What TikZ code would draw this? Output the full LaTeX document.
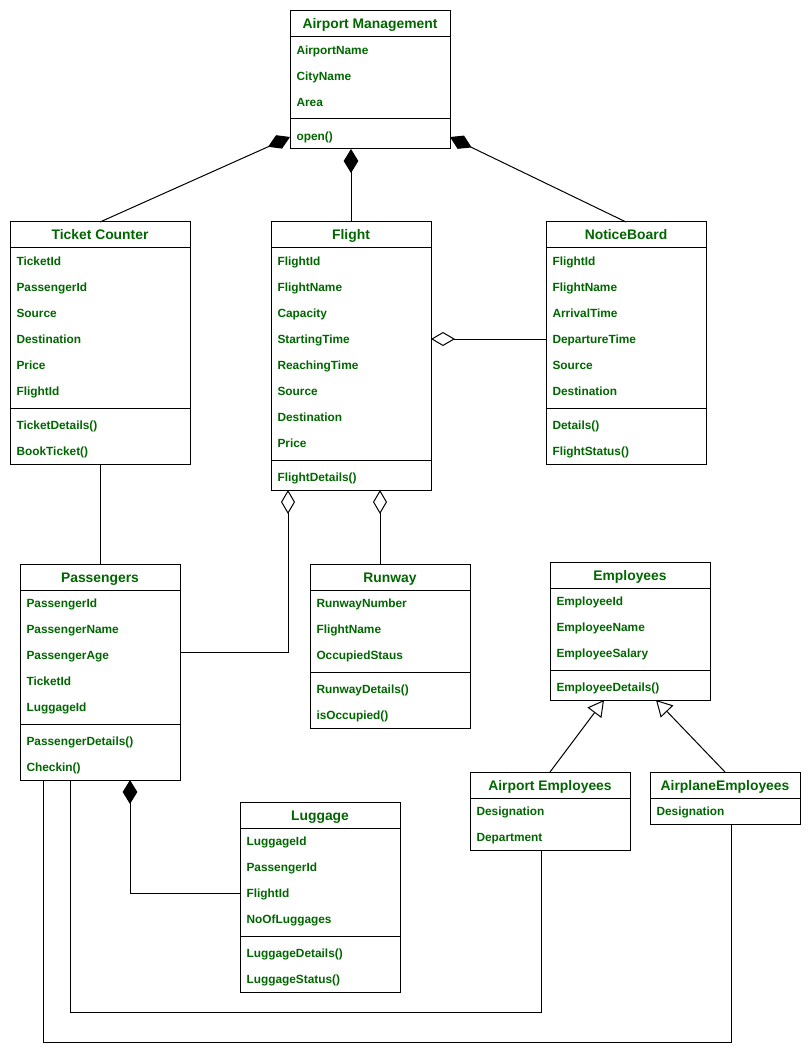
\documentclass[tikz,border=0pt]{standalone}
\usepackage{fontspec}
\setmainfont{Liberation Sans}
\usetikzlibrary{arrows.meta,fit,calc}

\definecolor{umlgreen}{RGB}{0,102,0}
\def\px{0.75pt}

\tikzset{
	classtitle/.style={draw, minimum height=26*\px, inner sep=0, outer sep=0,
		text height=7.5pt, text depth=0pt,
		font=\fontsize{10.4}{12}\selectfont\bfseries, text=umlgreen},
	member/.style={anchor=west, inner sep=0, text height=6.4pt, text depth=0pt,
		font=\fontsize{8.9}{10}\selectfont\bfseries, text=umlgreen},
	classbox/.style={draw, inner sep=0, outer sep=0},
	compose/.style={{Diamond[length=18pt, width=11pt]}-},
	aggr/.style={{Diamond[open, length=18pt, width=10.5pt]}-},
	general/.style={{Triangle[open, length=12pt, width=13pt]}-}
}

% name, top left, width, title, attributes, methods
\newcommand{\umlclass}[6]{%
	\node[classtitle, minimum width=#3*\px, anchor=north west] (#1-t) at (#2) {#4};
	\foreach \a [count=\i] in {#5} {
		\node[member] (#1-a\i) at ([xshift=6*\px, yshift=-(\i*26-13)*\px]#1-t.south west) {\a};
		\xdef\nrows{\i}
	}
	\if\relax\detokenize{#6}\relax
		\coordinate (#1-b) at ([yshift=-\nrows*26*\px]#1-t.south east);
	\else
		\draw ([yshift=-(\nrows*26+4)*\px]#1-t.south west) -- ([yshift=-(\nrows*26+4)*\px]#1-t.south east);
		\foreach \m [count=\j] in {#6} {
			\node[member] (#1-m\j) at ([xshift=6*\px, yshift=-(\nrows*26+8+\j*26-13)*\px]#1-t.south west) {\m};
			\xdef\nmeth{\j}
		}
		\coordinate (#1-b) at ([yshift=-(\nrows*26+8+\nmeth*26)*\px]#1-t.south east);
	\fi
	\node[classbox, fit=(#1-t)(#1-b)] (#1) {};
}

\begin{document}
\begin{tikzpicture}[x=0.75pt, y=-0.75pt, line width=0.75pt]

	\useasboundingbox (0,0) rectangle (811,1055);

	% ---- classes

	\umlclass{am}{290,11}{160}{Airport Management}{AirportName,CityName,Area}{open()}
	\umlclass{tc}{10,222}{180}{Ticket Counter}{TicketId,PassengerId,Source,Destination,Price,FlightId}{TicketDetails(),BookTicket()}
	\umlclass{fl}{271,222}{160}{Flight}{FlightId,FlightName,Capacity,StartingTime,ReachingTime,Source,Destination,Price}{FlightDetails()}
	\umlclass{nb}{546,222}{160}{NoticeBoard}{FlightId,FlightName,ArrivalTime,DepartureTime,Source,Destination}{Details(),FlightStatus()}
	\umlclass{pa}{20,564}{160}{Passengers}{PassengerId,PassengerName,PassengerAge,TicketId,LuggageId}{PassengerDetails(),Checkin()}
	\umlclass{rw}{310,564}{160}{Runway}{RunwayNumber,FlightName,OccupiedStaus}{RunwayDetails(),isOccupied()}
	\umlclass{emp}{550,562}{160}{Employees}{EmployeeId,EmployeeName,EmployeeSalary}{EmployeeDetails()}
	\umlclass{ae}{470,772}{160}{Airport Employees}{Designation,Department}{}
	\umlclass{ape}{650,772}{150}{AirplaneEmployees}{Designation}{}
	\umlclass{lug}{240,802}{160}{Luggage}{LuggageId,PassengerId,FlightId,NoOfLuggages}{LuggageDetails(),LuggageStatus()}

	% ---- composition

	\draw[compose] ([yshift=12*\px]am.south west) -- (tc.north);
	\draw[compose] (fl.north |- am.south) -- (fl.north);
	\draw[compose] ([yshift=12*\px]am.south east) -- (nb.north);
	\draw[compose] ([xshift=30*\px]pa.south) |- (lug.west |- lug-a3);

	% ---- aggregation

	\draw[aggr] (fl.east |- nb-a4) -- (nb.west |- nb-a4);
	\draw[aggr] ([xshift=-10*\px]rw.north |- fl.south) -- ([xshift=-10*\px]rw.north);
	\draw[aggr] ([xshift=-63*\px]fl.south) |- ([yshift=20*\px]pa.east);

	% ---- generalization

	\draw[general] ([xshift=-26*\px]emp.south) -- (ae.north);
	\draw[general] ([xshift=26*\px]emp.south) -- (ape.north);

	% ---- associations

	\draw (tc.south) -- (pa.north);
	\draw ([xshift=-30*\px]pa.south) -- ++(0,232) -| ([xshift=-9*\px]ae.south);
	\draw ([xshift=-57*\px]pa.south) -- ++(0,262) -| ([xshift=6*\px]ape.south);

\end{tikzpicture}
\end{document}
